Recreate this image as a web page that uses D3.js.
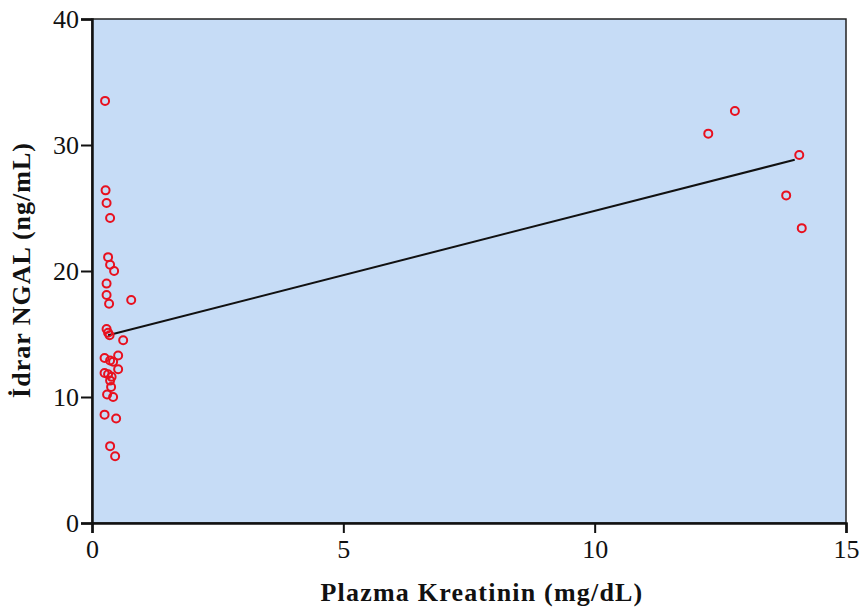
<!DOCTYPE html>
<html>
<head>
<meta charset="utf-8">
<script src="https://cdn.jsdelivr.net/npm/d3@7"></script>
<style>
	body { margin: 0; background: #ffffff; }
	.tickLabel { font-family: "Liberation Serif", "Times New Roman", serif; font-size: 26px; fill: #111; }
	.axisTitle { font-family: "Liberation Serif", "Times New Roman", serif; font-size: 26px; font-weight: bold; fill: #111; }
</style>
</head>
<body>
<svg id="chart" width="861" height="613"></svg>
<script>

//values
var kreatinin = [0.26, 0.27, 0.29, 0.36, 0.32, 0.36, 0.44, 0.29, 0.29, 0.34, 0.78,
	0.29, 0.32, 0.35, 0.62, 0.52, 0.25, 0.36, 0.42, 0.52, 0.25, 0.32, 0.39,
	0.36, 0.38, 0.30, 0.42, 0.25, 0.48, 0.36, 0.46,
	12.79, 12.26, 14.07, 13.81, 14.12];
var ngal = [33.5, 26.4, 25.4, 24.2, 21.1, 20.5, 20.0, 19.0, 18.1, 17.4, 17.7,
	15.4, 15.1, 14.9, 14.5, 13.3, 13.1, 12.9, 12.8, 12.2, 11.9, 11.8, 11.6,
	11.3, 10.8, 10.2, 10.0, 8.6, 8.3, 6.1, 5.3,
	32.7, 30.9, 29.2, 26.0, 23.4];

//fitted line, as drawn
var fitX = [0.32, 13.98];
var fitIntercept = 14.57;
var fitSlope = 1.02;

var xTicks = [0, 5, 10, 15];
var yTicks = [0, 10, 20, 30, 40];

var MARGIN = {top: 19, right: 15, bottom: 90, left: 92};
var WIDTH = 861 - MARGIN.left - MARGIN.right;
var HEIGHT = 613 - MARGIN.top - MARGIN.bottom;

var svg = d3.select("#chart");

var plot = svg.append("g")
	.attr("transform", "translate(" + MARGIN.left + "," + MARGIN.top + ")");

var x = d3.scaleLinear().domain([0, 15]).range([0, WIDTH]);
var y = d3.scaleLinear().domain([0, 40]).range([HEIGHT, 0]);

//background
plot.append("rect")
	.attr("width", WIDTH)
	.attr("height", HEIGHT)
	.attr("fill", "#c6dcf6")
	.attr("stroke", "#222")
	.attr("stroke-width", 1.5);

//regression line
plot.append("line")
	.attr("x1", x(fitX[0]))
	.attr("y1", y(fitIntercept + fitSlope * fitX[0]))
	.attr("x2", x(fitX[1]))
	.attr("y2", y(fitIntercept + fitSlope * fitX[1]))
	.attr("stroke", "#111")
	.attr("stroke-width", 2);

//points
plot.selectAll(".dot")
	.data(kreatinin)
	.enter()
	.append("circle")
	.attr("class", "dot")
	.attr("cx", function(d) { return x(d); })
	.attr("cy", function(d, i) { return y(ngal[i]); })
	.attr("r", 4)
	.attr("fill", "none")
	.attr("stroke", "#e8101e")
	.attr("stroke-width", 2);

//axes
var xAxis = plot.append("g")
	.attr("transform", "translate(0," + HEIGHT + ")")
	.call(d3.axisBottom(x).tickValues(xTicks).tickSize(10).tickPadding(7).tickFormat(d3.format("d")));

var yAxis = plot.append("g")
	.call(d3.axisLeft(y).tickValues(yTicks).tickSize(11).tickPadding(2).tickFormat(d3.format("d")));

[xAxis, yAxis].forEach(function(a) {
	a.selectAll("path").attr("stroke", "#111").attr("stroke-width", 2.5);
	a.selectAll("line").attr("stroke", "#111").attr("stroke-width", 2);
	a.selectAll("text").attr("class", "tickLabel").attr("font-size", null).attr("font-family", null);
});

//axis titles
svg.append("text")
	.attr("class", "axisTitle")
	.attr("x", 482)
	.attr("y", 601)
	.attr("text-anchor", "middle")
	.attr("letter-spacing", "1.2px")
	.text("Plazma Kreatinin (mg/dL)");

svg.append("text")
	.attr("class", "axisTitle")
	.attr("transform", "translate(30,270) rotate(-90)")
	.attr("text-anchor", "middle")
	.attr("letter-spacing", "1px")
	.text("İdrar NGAL (ng/mL)");

</script>
</body>
</html>
